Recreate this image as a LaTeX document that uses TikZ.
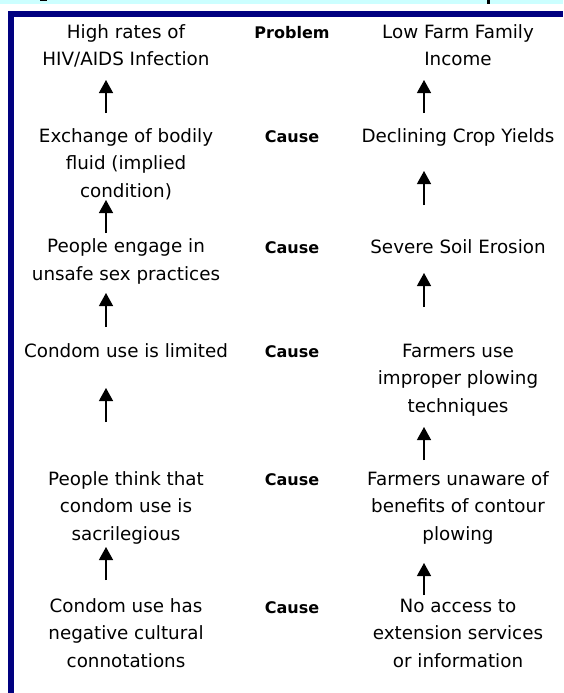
\documentclass[tikz,border=0pt]{standalone}
\usepackage{fontspec}
\setmainfont{DejaVu Sans}
\usetikzlibrary{arrows.meta}
\definecolor{navyframe}{HTML}{000080}
\definecolor{paleband}{HTML}{CCFFFF}
\tikzset{
  txt/.style={anchor=base, align=center, inner sep=0pt, font=\fontsize{18.3}{27.5}\selectfont},
  lbl/.style={anchor=base, inner sep=0pt, font=\fontsize{16}{27.5}\selectfont\bfseries},
  arr/.style={line width=1.3pt, -{Triangle[width=14pt,length=13pt]}}
}
\begin{document}
\begin{tikzpicture}[x=1pt,y=-1pt]
\useasboundingbox (0,0) rectangle (563,693);
% top band and frame
\fill[paleband] (0,0) rectangle (563,4.5);
\fill[black] (40,0) rectangle (47,1.5);
\fill[black] (487,0) rectangle (490,4);
\fill[navyframe] (8,11) rectangle (563,17);
\fill[navyframe] (8,11) rectangle (14,693);

% left column (positions are the baselines of the last lines)
\node[txt] (L1) at (126,65.5) {High rates of\\HIV/AIDS Infection};
\node[txt] (L2) at (126,197) {Exchange of bodily\\fluid (implied\\condition)};
\node[txt] (L3) at (126,280) {People engage in\\unsafe sex practices};
\node[txt] (L4) at (126,357) {Condom use is limited};
\node[txt] (L5) at (126,540) {People think that\\condom use is\\sacrilegious};
\node[txt] (L6) at (126,667) {Condom use has\\negative cultural\\connotations};

% middle labels
\node[lbl] (M1) at (292,38) {Problem};
\node[lbl] (M2) at (292,142) {Cause};
\node[lbl] (M3) at (292,253) {Cause};
\node[lbl] (M4) at (292,357) {Cause};
\node[lbl] (M5) at (292,485) {Cause};
\node[lbl] (M6) at (292,613) {Cause};

% right column
\node[txt] (R1) at (458,65.5) {Low Farm Family\\Income};
\node[txt] (R2) at (458,142) {Declining Crop Yields};
\node[txt] (R3) at (458,253) {Severe Soil Erosion};
\node[txt] (R4) at (458,412) {Farmers use\\improper plowing\\techniques};
\node[txt] (R5) at (458,540) {Farmers unaware of\\benefits of contour\\plowing};
\node[txt] (R6) at (458,667) {No access to\\extension services\\or information};

% arrow end points
\coordinate (la1s) at (106,113); \coordinate (la1e) at (106,80);
\coordinate (la2s) at (106,233); \coordinate (la2e) at (106,200);
\coordinate (la3s) at (106,327); \coordinate (la3e) at (106,293);
\coordinate (la4s) at (106,422); \coordinate (la4e) at (106,388);
\coordinate (la5s) at (106,580); \coordinate (la5e) at (106,547);
\coordinate (ra1s) at (424,113); \coordinate (ra1e) at (424,80);
\coordinate (ra2s) at (424,205); \coordinate (ra2e) at (424,171);
\coordinate (ra3s) at (424,307); \coordinate (ra3e) at (424,273);
\coordinate (ra4s) at (424,460); \coordinate (ra4e) at (424,427);
\coordinate (ra5s) at (424,595); \coordinate (ra5e) at (424,563);

\foreach \a in {la1,la2,la3,la4,la5,ra1,ra2,ra3,ra4,ra5}
  \draw[arr] (\a s) -- (\a e);
\end{tikzpicture}
\end{document}
